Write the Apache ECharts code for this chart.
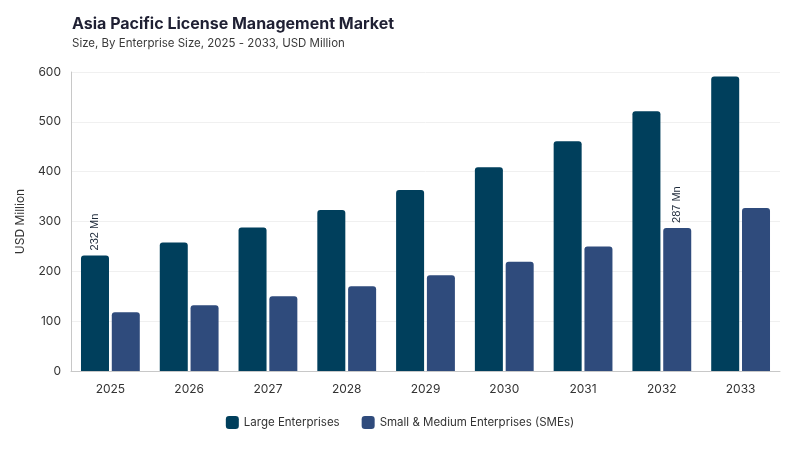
<!DOCTYPE html>
<html>
<head>
<meta charset="utf-8">
<title>Asia Pacific License Management Market</title>
<script src="https://cdn.jsdelivr.net/npm/echarts@6/dist/echarts.min.js"></script>
<style>
  html, body { margin: 0; padding: 0; background: #fff; }
  #main { width: 800px; height: 450px; }
</style>
</head>
<body>
<div id="main"></div>
<script>
// data
var years = ['2025', '2026', '2027', '2028', '2029', '2030', '2031', '2032', '2033'];
var largeEnt = [232, 258, 288, 323, 363, 409, 461, 521, 591];
var smeEnt = [118, 132, 150, 170, 192, 219, 250, 287, 327];
var yTicks = [0, 100, 200, 300, 400, 500, 600];

var seriesNames = ['Large Enterprises', 'Small & Medium Enterprises (SMEs)'];
var colors = ['#003f5c', '#2f4b7c'];
var font = 'Inter, "Noto Sans", sans-serif';

// only one bar in each series carries a value label
function withLabel(arr, idx) {
    return arr.map(function (v, i) {
        if (i !== idx) return v;
        return {
            value: v,
            label: {
                show: true,
                position: 'top',
                rotate: 90,
                align: 'left',
                verticalAlign: 'middle',
                distance: 5,
                formatter: '{c} Mn',
                fontFamily: 'Liberation Sans, Arial, sans-serif',
                fontSize: 11,
                color: '#1e2a3a'
            }
        };
    });
}

var chart = echarts.init(document.getElementById('main'));
chart.setOption({
    animation: false,
    color: colors,
    title: {
        text: 'Asia Pacific License Management Market',
        subtext: 'Size, By Enterprise Size, 2025 - 2033, USD Million',
        left: 67,
        top: 11,
        itemGap: 6,
        textStyle: { fontFamily: font, fontSize: 16, fontWeight: 'bold', color: '#1f2033' },
        subtextStyle: { fontFamily: font, fontSize: 11.5, color: '#3a3a3a' }
    },
    legend: {
        bottom: 16,
        left: 'center',
        itemWidth: 13,
        itemHeight: 13,
        itemGap: 22,
        icon: 'roundRect',
        textStyle: { fontFamily: font, fontSize: 11.5, color: '#333' },
        data: seriesNames
    },
    grid: { left: 71, right: 20, top: 72, bottom: 79 },
    xAxis: {
        type: 'category',
        data: years,
        axisLine: { lineStyle: { color: '#c8c8c8' } },
        axisTick: { show: false },
        axisLabel: { fontFamily: font, fontSize: 12, color: '#333', margin: 12 }
    },
    yAxis: {
        type: 'value',
        min: yTicks[0],
        max: yTicks[yTicks.length - 1],
        interval: 100,
        name: 'USD Million',
        nameLocation: 'middle',
        nameRotate: 90,
        nameGap: 45,
        nameTextStyle: { fontFamily: font, fontSize: 12, color: '#333' },
        axisLine: { show: true, lineStyle: { color: '#c8c8c8' } },
        axisTick: { show: false },
        axisLabel: { fontFamily: font, fontSize: 12, color: '#333', margin: 10 },
        splitLine: { lineStyle: { color: '#f0f0f0' } }
    },
    series: [
        {
            name: seriesNames[0],
            type: 'bar',
            barWidth: 28,
            barGap: '10%',
            itemStyle: { borderRadius: [3, 3, 0, 0] },
            data: withLabel(largeEnt, 0)
        },
        {
            name: seriesNames[1],
            type: 'bar',
            barWidth: 28,
            barGap: '10%',
            itemStyle: { borderRadius: [3, 3, 0, 0] },
            data: withLabel(smeEnt, 7)
        }
    ]
});
</script>
</body>
</html>
